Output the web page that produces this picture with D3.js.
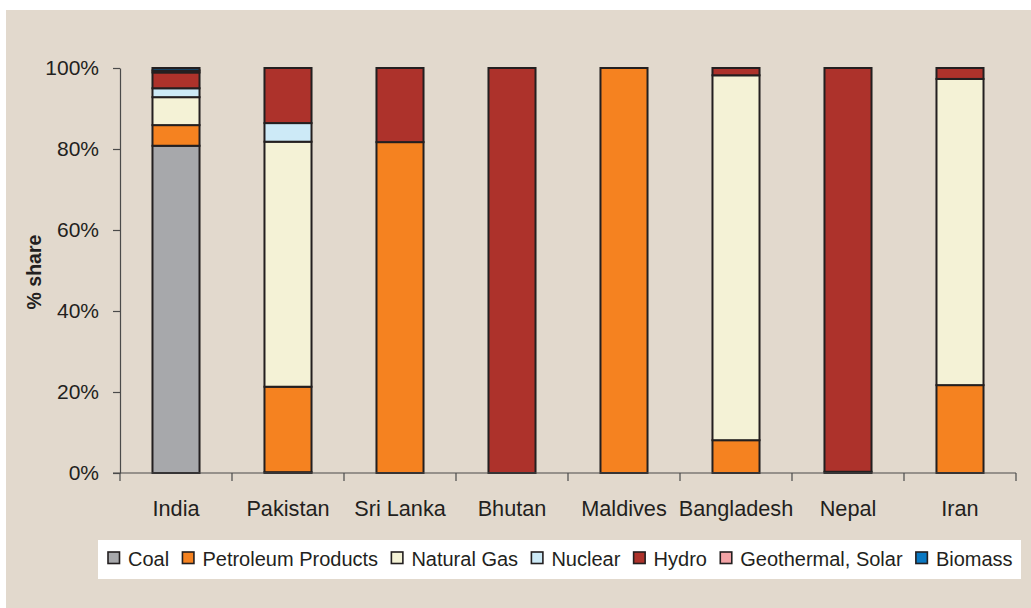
<!DOCTYPE html>
<html>
<head>
<meta charset="utf-8">
<script src="https://cdn.jsdelivr.net/npm/d3@7"></script>
<style>
  html, body { margin: 0; padding: 0; background: #ffffff; }
  svg { display: block; font-family: "Liberation Sans", Arial, sans-serif; }
</style>
</head>
<body>
<svg id="chart" width="1031" height="608"></svg>
<script>
const categories = ["India", "Pakistan", "Sri Lanka", "Bhutan", "Maldives", "Bangladesh", "Nepal", "Iran"];
const seriesNames = ["Coal", "Petroleum Products", "Natural Gas", "Nuclear", "Hydro", "Geothermal, Solar", "Biomass"];
const coal       = [80.8, 0.2, 0, 0, 0, 0, 0, 0];
const petroleum  = [5.1, 21.1, 81.7, 0, 100, 8.1, 0.3, 21.7];
const naturalGas = [6.9, 60.5, 0, 0, 0, 90.1, 0, 75.6];
const nuclear    = [2.2, 4.6, 0, 0, 0, 0, 0, 0];
const hydro      = [3.9, 13.6, 18.3, 100, 0, 1.8, 99.7, 2.7];
const geothermal = [0.5, 0, 0, 0, 0, 0, 0, 0];
const biomass    = [0.6, 0, 0, 0, 0, 0, 0, 0];
const yTicks = [0, 20, 40, 60, 80, 100];
const seriesColors = ["#a7a8ab", "#f58220", "#f4f2d6", "#cdeaf7", "#ad322b", "#f3a3a6", "#0a78c2"];

(function () {
const seriesValues = [coal, petroleum, naturalGas, nuclear, hydro, geothermal, biomass];
const rows = categories.map((c, i) => {
  const r = { category: c };
  seriesNames.forEach((s, j) => { r[s] = seriesValues[j][i]; });
  return r;
});

const svg = d3.select("#chart");
const W = 1031, H = 608;

svg.append("rect").attr("x", 6).attr("y", 10).attr("width", W - 6).attr("height", H - 10).attr("fill", "#e2d9cd");

const pl = 120, pr = 1016, pt = 68, pb = 473;
const x = d3.scaleBand().domain(categories).range([pl, pr]).paddingInner(0.58).paddingOuter(0.29);
const y = d3.scaleLinear().domain([0, 100]).range([pb, pt]);

const stacked = d3.stack().keys(seriesNames)(rows);

const g = svg.append("g");
stacked.forEach((layer, j) => {
  g.selectAll(null).data(layer.filter(d => d[1] - d[0] > 0)).enter().append("rect")
    .attr("x", d => x(d.data.category))
    .attr("width", x.bandwidth())
    .attr("y", d => y(d[1]))
    .attr("height", d => y(d[0]) - y(d[1]))
    .attr("fill", seriesColors[j])
    .attr("stroke", "#231f20")
    .attr("stroke-width", 2);
});

const yAxis = d3.axisLeft(y).tickValues(yTicks).tickFormat(d => d + "%").tickSize(7).tickSizeOuter(0);
const ya = svg.append("g").attr("transform", `translate(${pl},0)`).call(yAxis);
ya.select(".domain").attr("stroke", "#4a4a4a").attr("stroke-width", 1.2);
ya.selectAll(".tick line").attr("stroke", "#4a4a4a").attr("stroke-width", 1.2);
ya.selectAll(".tick text").attr("font-size", 21).attr("fill", "#231f20").attr("x", -21)
  .attr("font-family", "'Liberation Sans', Arial, sans-serif");

const xa = svg.append("g");
xa.append("line").attr("x1", pl - 7).attr("x2", pr).attr("y1", pb).attr("y2", pb)
  .attr("stroke", "#4a4a4a").attr("stroke-width", 1.2);
const boundaries = d3.range(categories.length + 1).map(i => pl + i * (pr - pl) / categories.length);
xa.selectAll(null).data(boundaries).enter().append("line")
  .attr("x1", d => d).attr("x2", d => d).attr("y1", pb).attr("y2", pb + 8)
  .attr("stroke", "#4a4a4a").attr("stroke-width", 1.2);
xa.selectAll(null).data(categories).enter().append("text")
  .attr("x", d => x(d) + x.bandwidth() / 2)
  .attr("y", 516)
  .attr("text-anchor", "middle")
  .attr("font-size", 21.7)
  .attr("fill", "#231f20")
  .text(d => d);

svg.append("text")
  .attr("transform", "translate(41,272) rotate(-90)")
  .attr("text-anchor", "middle")
  .attr("font-size", 19.5)
  .attr("font-weight", "bold")
  .attr("fill", "#231f20")
  .text("% share");

const lg = svg.append("g");
lg.append("rect").attr("x", 98).attr("y", 540).attr("width", 923).attr("height", 39).attr("fill", "#ffffff");
let lx = 108;
seriesNames.forEach((s, j) => {
  lg.append("rect").attr("x", lx).attr("y", 552).attr("width", 11.5).attr("height", 11.5)
    .attr("fill", seriesColors[j]).attr("stroke", "#231f20").attr("stroke-width", 1.6);
  const t = lg.append("text").attr("x", lx + 20).attr("y", 566).attr("font-size", 20)
    .attr("fill", "#231f20").text(s);
  const w = t.node().getComputedTextLength();
  lx = lx + 20 + w + 13.3;
});
})();
</script>
</body>
</html>
